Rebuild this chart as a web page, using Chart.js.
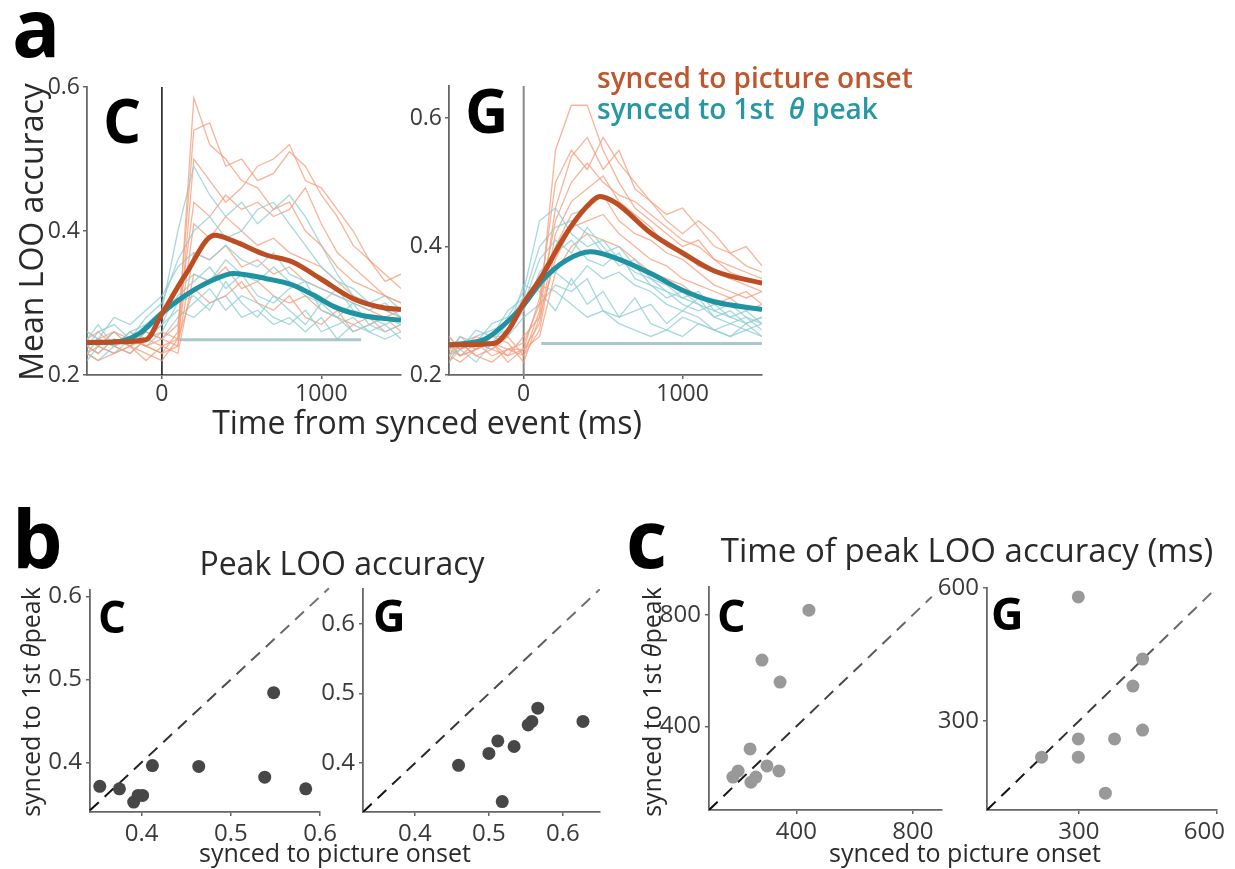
<!DOCTYPE html>
<html>
<head>
<meta charset="utf-8">
<script src="https://cdn.jsdelivr.net/npm/chart.js@4.4.1/dist/chart.umd.min.js"></script>
<style>
  body { margin: 0; background: #fff; width: 1235px; height: 869px; position: relative; overflow: hidden;
         font-family: 'Open Sans', 'Noto Sans', sans-serif; }
  canvas { position: absolute; }
  .t { position: absolute; white-space: nowrap; line-height: 1; color: #2a2a2a; }
  .b { font-weight: 700; color: #000; }
  .r { transform: translate(-50%, -50%) rotate(-90deg); }
</style>
</head>
<body>
<canvas id="aC"></canvas>
<canvas id="aG"></canvas>
<canvas id="bC"></canvas>
<canvas id="bG"></canvas>
<canvas id="cC"></canvas>
<canvas id="cG"></canvas>

<script>
// ---- panel a: sample times (ms) for single-session traces ----
const T = [-470, -400, -300, -200, -100, 0, 100, 200, 300, 400, 500, 600, 700, 800, 900, 1000, 1100, 1200, 1300, 1400, 1500];

// monkey C, synced to picture onset
const cOnsetTrials = [
  [.24, .23, .25, .24, .23, .22, .25, .585, .52, .50, .47, .46, .43, .44, .40, .38, .35, .33, .32, .31, .30],
  [.25, .26, .24, .25, .24, .23, .26, .54, .55, .49, .50, .47, .48, .51, .49, .45, .42, .38, .36, .33, .34],
  [.23, .24, .26, .25, .24, .25, .24, .50, .47, .44, .46, .49, .50, .52, .47, .46, .43, .40, .36, .34, .32],
  [.25, .24, .23, .24, .26, .25, .27, .44, .42, .45, .43, .44, .42, .43, .46, .41, .37, .35, .33, .31, .30],
  [.24, .25, .24, .23, .25, .26, .25, .41, .39, .42, .40, .38, .39, .37, .36, .35, .33, .31, .30, .29, .28],
  [.26, .25, .24, .26, .24, .23, .24, .37, .36, .38, .35, .36, .34, .35, .33, .32, .31, .30, .29, .28, .29],
  [.23, .22, .23, .24, .22, .24, .23, .34, .33, .35, .32, .33, .31, .30, .31, .29, .28, .27, .28, .26, .27],
  [.24, .25, .26, .24, .25, .24, .25, .32, .30, .31, .33, .30, .29, .31, .28, .27, .29, .26, .27, .28, .26]
];
// monkey C, synced to 1st theta peak
const cThetaTrials = [
  [.25, .27, .24, .26, .27, .29, .40, .49, .45, .42, .44, .41, .43, .45, .42, .38, .34, .31, .30, .29, .28],
  [.24, .26, .27, .25, .28, .30, .36, .40, .42, .39, .40, .43, .44, .41, .38, .35, .33, .32, .30, .31, .29],
  [.26, .25, .28, .27, .29, .31, .35, .37, .36, .38, .36, .35, .37, .34, .33, .32, .31, .30, .29, .30, .28],
  [.23, .25, .24, .26, .25, .27, .32, .34, .33, .36, .34, .33, .35, .33, .31, .30, .32, .29, .28, .27, .28],
  [.25, .24, .26, .24, .27, .28, .31, .33, .35, .32, .34, .31, .30, .32, .33, .29, .28, .30, .27, .28, .27],
  [.22, .24, .23, .25, .24, .26, .30, .31, .29, .33, .30, .28, .31, .29, .27, .30, .28, .26, .27, .26, .27],
  [.24, .23, .25, .24, .26, .25, .28, .30, .32, .29, .31, .30, .28, .27, .29, .26, .27, .28, .26, .27, .25],
  [.23, .22, .24, .23, .25, .27, .29, .28, .30, .31, .28, .29, .27, .28, .26, .28, .25, .27, .26, .25, .26]
];
// monkey G, synced to picture onset
const gOnsetTrials = [
  [.24, .25, .23, .22, .24, .23, .30, .55, .62, .62, .55, .50, .46, .44, .42, .40, .41, .38, .37, .36, .35],
  [.25, .24, .26, .25, .23, .24, .32, .50, .55, .52, .57, .53, .50, .47, .45, .46, .43, .40, .39, .40, .37],
  [.23, .26, .24, .26, .25, .22, .29, .46, .54, .57, .52, .55, .49, .47, .44, .42, .44, .42, .39, .37, .36],
  [.26, .24, .25, .23, .24, .25, .31, .44, .50, .53, .50, .48, .47, .45, .43, .41, .40, .38, .36, .35, .34],
  [.24, .23, .24, .25, .22, .24, .28, .42, .47, .49, .51, .47, .45, .43, .40, .39, .37, .36, .35, .34, .33],
  [.22, .25, .23, .24, .26, .23, .27, .40, .45, .46, .48, .44, .42, .41, .39, .38, .36, .34, .33, .32, .33],
  [.25, .23, .25, .24, .23, .26, .29, .38, .43, .44, .45, .42, .40, .38, .37, .35, .34, .33, .32, .33, .31],
  [.23, .22, .24, .25, .24, .24, .26, .36, .40, .42, .41, .40, .38, .36, .35, .34, .32, .31, .32, .30, .31]
];
// monkey G, synced to 1st theta peak
const gThetaTrials = [
  [.24, .26, .25, .28, .29, .33, .44, .46, .42, .40, .41, .38, .36, .35, .33, .32, .31, .30, .29, .30, .28],
  [.25, .24, .27, .26, .30, .32, .40, .43, .44, .42, .39, .40, .37, .34, .33, .31, .30, .31, .29, .28, .29],
  [.23, .25, .26, .27, .28, .31, .38, .41, .39, .43, .40, .37, .38, .35, .34, .32, .33, .30, .31, .29, .28],
  [.26, .24, .25, .26, .27, .30, .36, .39, .41, .38, .37, .39, .35, .34, .32, .33, .31, .29, .30, .28, .29],
  [.24, .25, .24, .25, .28, .32, .35, .36, .34, .37, .35, .36, .34, .33, .31, .30, .32, .29, .28, .29, .27],
  [.22, .24, .25, .24, .27, .34, .33, .30, .35, .31, .33, .29, .30, .31, .28, .30, .29, .27, .28, .27, .28],
  [.25, .23, .24, .26, .26, .31, .34, .33, .31, .29, .30, .29, .32, .28, .27, .29, .28, .27, .26, .28, .26],
  [.23, .24, .22, .25, .26, .29, .31, .34, .33, .35, .30, .28, .27, .26, .27, .26, .28, .27, .26, .27, .26]
];
// chance-level (shuffled) traces
const cFlatT = [110, 1250], cFlatV = [0.249, 0.249];
const gFlatT = [110, 1500], gFlatV = [0.249, 0.249];

// session means
const cOnsetT = [-470, -300, -100, 0, 150, 330, 450, 650, 820, 1000, 1200, 1400, 1500];
const cOnsetV = [0.245, 0.246, 0.249, 0.285, 0.340, 0.394, 0.386, 0.367, 0.357, 0.333, 0.306, 0.293, 0.291];
const cThetaT = [-470, -290, -140, 0, 150, 320, 450, 650, 820, 950, 1080, 1250, 1500];
const cThetaV = [0.245, 0.246, 0.258, 0.286, 0.311, 0.332, 0.341, 0.334, 0.325, 0.311, 0.295, 0.283, 0.276];
const gOnsetT = [-470, -190, -90, 0, 100, 270, 400, 480, 580, 800, 1000, 1200, 1500];
const gOnsetV = [0.247, 0.249, 0.272, 0.312, 0.348, 0.421, 0.463, 0.478, 0.468, 0.421, 0.390, 0.362, 0.343];
const gThetaT = [-470, -250, -90, 0, 120, 270, 420, 580, 800, 1000, 1200, 1500];
const gThetaV = [0.247, 0.255, 0.286, 0.309, 0.348, 0.379, 0.392, 0.382, 0.358, 0.332, 0.314, 0.302];

// ---- panel b: peak LOO accuracy (x: picture onset, y: 1st theta peak) ----
const peakCx = [0.353, 0.375, 0.391, 0.396, 0.401, 0.412, 0.464, 0.548, 0.538, 0.584];
const peakCy = [0.371, 0.368, 0.352, 0.360, 0.360, 0.396, 0.395, 0.484, 0.382, 0.368];
const peakGx = [0.459, 0.500, 0.512, 0.534, 0.553, 0.558, 0.566, 0.627, 0.518];
const peakGy = [0.397, 0.414, 0.432, 0.424, 0.455, 0.460, 0.479, 0.460, 0.345];

// ---- panel c: time of peak (ms) ----
const timeCx = [182, 200, 241, 244, 261, 299, 340, 282, 344, 443];
const timeCy = [218, 240, 319, 200, 218, 258, 240, 638, 559, 817];
const timeGx = [299, 439, 418, 439, 299, 378, 299, 219, 358];
const timeGy = [580, 440, 379, 280, 260, 260, 219, 219, 138];

// tick values
const aXTicks = [0, 1000];
const aYTicks = [0.2, 0.4, 0.6];
const bTicks = [0.4, 0.5, 0.6];
const cCTicks = [400, 800];
const cGTicks = [300, 600];

const ORANGE = '#bd4d22', TEAL = '#1f93a1';
const ORANGE_LT = 'rgba(245,155,120,0.75)', TEAL_LT = 'rgba(145,207,212,0.8)';
const FONT = "'Open Sans', 'Noto Sans', sans-serif";

const PAD = 30, YW = 70, XH = 50;

// size and place a canvas so that its plot area lands on the given box
function mount(id, box) {
  const c = document.getElementById(id);
  c.width = box.r - box.l + YW + 2 * PAD;
  c.height = box.b - box.t + XH + 2 * PAD;
  c.style.left = (box.l - YW - PAD) + 'px';
  c.style.top = (box.t - PAD) + 'px';
  return c;
}

function axis(min, max, values, size, pad, isY, fmt) {
  return {
    type: 'linear', min, max,
    afterBuildTicks: s => { s.ticks = values.map(v => ({ value: v })); },
    afterFit: s => { if (isY) s.width = YW; else s.height = XH; },
    ticks: { color: '#3a3a3a', font: { family: FONT, size }, padding: pad, callback: fmt || (v => String(v)) },
    grid: { drawOnChartArea: false, tickLength: 4, color: '#666', lineWidth: 1.5 },
    border: { color: '#666', width: 1.8 }
  };
}

const zip = (xs, ys) => xs.map((x, i) => ({ x, y: ys[i] }));

const zeroLine = {
  id: 'zeroLine',
  beforeDatasetsDraw(chart, args, opts) {
    const { ctx, chartArea, scales } = chart;
    const px = scales.x.getPixelForValue(0);
    ctx.save();
    ctx.strokeStyle = opts.color;
    ctx.lineWidth = opts.width;
    ctx.beginPath();
    ctx.moveTo(px, chartArea.top);
    ctx.lineTo(px, chartArea.bottom);
    ctx.stroke();
    ctx.restore();
  }
};

function traceChart(id, box, yMax, s) {
  const thin = (vals, color) => ({
    data: zip(T, vals), borderColor: color, borderWidth: 1.3, pointRadius: 0, tension: 0, order: 2
  });
  const thick = (ts, vs, color) => ({
    data: zip(ts, vs), borderColor: color, borderWidth: 5, pointRadius: 0,
    cubicInterpolationMode: 'monotone', order: 0
  });
  const datasets = [
    thick(s.onsetT, s.onsetV, ORANGE),
    thick(s.thetaT, s.thetaV, TEAL),
    { data: zip(s.flatT, s.flatV), borderColor: 'rgba(150,185,190,0.8)', borderWidth: 3, pointRadius: 0, order: 1 }
  ];
  s.onset.forEach((v, i) => {
    datasets.push(thin(v, ORANGE_LT));
    if (s.theta[i]) datasets.push(thin(s.theta[i], TEAL_LT));
  });
  return new Chart(mount(id, box), {
    type: 'line',
    data: { datasets },
    plugins: [zeroLine],
    options: {
      responsive: false, animation: false, events: [],
      layout: { padding: PAD },
      plugins: { legend: { display: false }, tooltip: { enabled: false }, zeroLine: s.zero },
      scales: {
        x: axis(-470, 1500, aXTicks, 23, 2, false),
        y: axis(0.2, yMax, aYTicks, 23, 3, true)
      }
    }
  });
}

function diagColor(ctx) {
  const { chart } = ctx;
  const a = chart.chartArea;
  if (!a) return '#222';
  const g = chart.ctx.createLinearGradient(a.left, a.bottom, a.right, a.top);
  g.addColorStop(0, 'rgba(10,10,10,1)');
  g.addColorStop(1, 'rgba(60,60,60,0.7)');
  return g;
}

function scatterChart(id, box, lim, diagEnd, ticks, xs, ys, color, clip, xfmt) {
  return new Chart(mount(id, box), {
    type: 'scatter',
    data: {
      datasets: [
        { data: zip(xs, ys), backgroundColor: color, borderWidth: 0, pointRadius: 6.5, order: 0 },
        { data: [{ x: lim.x[0], y: lim.x[0] }, { x: diagEnd, y: diagEnd }], showLine: true, borderColor: diagColor,
          borderWidth: 2, borderDash: [12, 8], pointRadius: 0, clip: clip, order: 1 }
      ]
    },
    options: {
      responsive: false, animation: false, events: [],
      layout: { padding: PAD },
      plugins: { legend: { display: false }, tooltip: { enabled: false } },
      scales: {
        x: axis(lim.x[0], lim.x[1], ticks, 24, 4, false, xfmt),
        y: axis(lim.y[0], lim.y[1], ticks, 24, 4, true)
      }
    }
  });
}

traceChart('aC', { l: 87, r: 401, t: 87, b: 375 }, 0.6, {
  onset: cOnsetTrials, theta: cThetaTrials, onsetT: cOnsetT, onsetV: cOnsetV,
  thetaT: cThetaT, thetaV: cThetaV, flatT: cFlatT, flatV: cFlatV,
  zero: { color: '#111', width: 1.5 }
});
traceChart('aG', { l: 449, r: 762, t: 86, b: 375 }, 0.65, {
  onset: gOnsetTrials, theta: gThetaTrials, onsetT: gOnsetT, onsetV: gOnsetV,
  thetaT: gThetaT, thetaV: gThetaV, flatT: gFlatT, flatV: gFlatV,
  zero: { color: '#888', width: 2 }
});

scatterChart('bC', { l: 90, r: 320, t: 590, b: 812 }, { x: [0.342, 0.6], y: [0.34, 0.608] }, 0.61,
  bTicks, peakCx, peakCy, '#474747', false);
scatterChart('bG', { l: 363, r: 600, t: 589, b: 812 }, { x: [0.33, 0.65], y: [0.33, 0.65] }, 0.65,
  bTicks, peakGx, peakGy, '#474747', true);
scatterChart('cC', { l: 709, r: 942, t: 587, b: 810 }, { x: [100, 900], y: [100, 900] }, 865,
  cCTicks, timeCx, timeCy, '#999', true);
// last label pulled left so it stays on the page
scatterChart('cG', { l: 987, r: 1223, t: 588, b: 810 }, { x: [100, 600], y: [100, 600] }, 600,
  cGTicks, timeGx, timeGy, '#999', true, v => v === 600 ? '600\u2002\u2002' : String(v));

// ---- text ----
// baseline-anchored label: y is the text baseline
function label(html, x, y, size, cls, extra) {
  const d = document.createElement('div');
  d.className = 't ' + (cls || '');
  d.innerHTML = html;
  d.style.fontSize = size + 'px';
  d.style.left = x + 'px';
  d.style.top = (y - 0.888 * size) + 'px';
  if (extra) Object.assign(d.style, extra);
  document.body.appendChild(d);
  return d;
}
// rotated label centred on (cx, cy)
function vlabel(html, cx, cy, size) {
  const d = document.createElement('div');
  d.className = 't r';
  d.innerHTML = html;
  d.style.fontSize = size + 'px';
  d.style.left = cx + 'px';
  d.style.top = cy + 'px';
  document.body.appendChild(d);
  return d;
}
// horizontally centred label
function clabel(html, cx, y, size) {
  const d = label(html, cx, y, size, '');
  d.style.transform = 'translateX(-50%)';
  return d;
}

label('a', 12, 57, 80, 'b');
label('b', 12, 568, 80, 'b');
label('c', 626, 568, 80, 'b');

label('C', 103, 143, 60, 'b');
label('G', 465, 133, 60, 'b');
label('C', 98, 633, 44, 'b');
label('G', 373, 632, 45, 'b');
label('C', 717, 632, 45, 'b');
label('G', 991, 630, 45, 'b');

label('synced to picture onset', 597, 88, 28, '', { color: '#c0562c', fontWeight: 600 });
label('synced to 1st&nbsp; <i>θ</i> peak', 597, 119, 28, '', { color: '#2597a5', fontWeight: 600 });

vlabel('Mean LOO accuracy', 31, 232, 32);
clabel('Time from synced event (ms)', 427, 434, 32);

clabel('Peak LOO accuracy', 342, 575, 32);
clabel('Time of peak LOO accuracy (ms)', 967, 562, 33);

vlabel('synced to 1st <i>θ</i>peak', 30, 702, 25);
vlabel('synced to 1st <i>θ</i>peak', 651, 702, 25);
clabel('synced to picture onset', 335, 862, 25);
clabel('synced to picture onset', 965, 862, 25);
</script>
</body>
</html>
